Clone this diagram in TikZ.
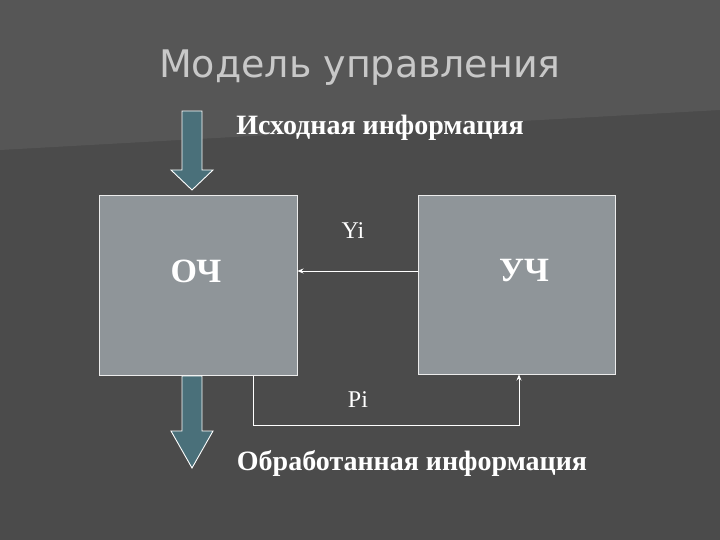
\documentclass[tikz,border=0pt]{standalone}
\usepackage{fontspec}
\setmainfont{Liberation Serif}
\newfontfamily\titlefont{DejaVu Sans}
\usetikzlibrary{arrows.meta}
\definecolor{bgc}{RGB}{75,75,75}
\definecolor{bandc}{RGB}{86,86,86}
\definecolor{boxc}{RGB}{143,149,153}
\definecolor{arrc}{RGB}{74,112,122}
\definecolor{titc}{RGB}{200,200,200}
\begin{document}
\begin{tikzpicture}[x=1pt,y=-1pt,
  block/.style={draw=white!85!gray,line width=1pt,fill=boxc},
  bigarrow/.style={draw=white,line width=0.9pt,fill=arrc},
  lbl/.style={text=white,font=\bfseries\fontsize{28}{30}\selectfont},
  conn/.style={draw=white,line width=0.8pt,-{Stealth[length=6pt,width=5pt]}}]
\fill[bgc] (0,0) rectangle (720,540);
\fill[bandc] (0,0) -- (720,0) -- (720,110) -- (0,150) -- cycle;
\useasboundingbox (0,0) rectangle (720,540);
\node[text=titc,font=\titlefont\fontsize{38}{42}\selectfont] (title) at (360,68) {Модель управления};
\node[block,minimum width=198pt,minimum height=179pt] (oc) at (198,285.5) {};
\node[block,minimum width=197pt,minimum height=178pt] (uc) at (516.5,285) {};
\node[text=white,font=\bfseries\fontsize{34}{36}\selectfont] (ocl) at (196,271) {ОЧ};
\node[text=white,font=\bfseries\fontsize{34}{36}\selectfont] (ucl) at (524,271) {УЧ};
\draw[bigarrow] (182,111) -- (202,111) -- (202,170) -- (213,170) -- (192,190) -- (171,170) -- (182,170) -- cycle;
\draw[bigarrow] (182,376) -- (202,376) -- (202,431) -- (213,431) -- (192,468) -- (171,431) -- (182,431) -- cycle;
\node[lbl] (src) at (380,128) {Исходная информация};
\node[lbl] (dst) at (412,463) {Обработанная информация};
\node[text=white,font=\fontsize{24}{26}\selectfont] (yi) at (353,231) {Yi};
\node[text=white,font=\fontsize{24}{26}\selectfont] (pi) at (358,400) {Pi};
\draw[conn] (uc.west |- 0,271) -- (oc.east |- 0,271);
\coordinate (p1) at (253,425);
\coordinate (p2) at (519,425);
\draw[conn] (oc.south -| p1) -- (p1) -- (p2) -- (uc.south -| p2);
\end{tikzpicture}
\end{document}
